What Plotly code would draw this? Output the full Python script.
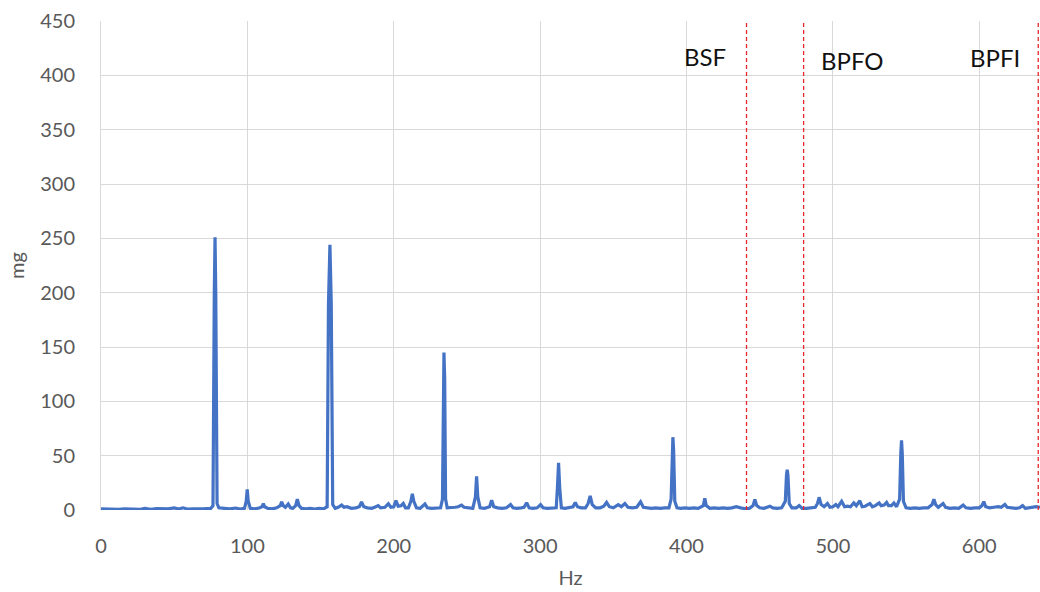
import plotly.graph_objects as go

# Spectrum points (Hz, mg)
freq_hz = [0, 4, 8, 12, 16, 20, 24, 27, 30, 34, 38, 42, 46, 50, 53, 56, 59, 63, 67, 71, 75,
           76.5, 77.4, 77.9, 78.4, 79.3, 80.5, 84, 88, 92, 95, 98, 99.2, 99.9, 100.6, 102, 105, 108,
           110, 110.9, 111.8, 114, 117, 120, 122.5, 123.4, 124.5, 126, 127.9, 129.5, 131, 133, 134.1,
           135.3, 137, 140, 143, 146, 149, 152, 154.5, 155.4, 156.4, 157.3, 158.3, 160, 162, 164.4,
           166, 168, 171, 174, 176.5, 178, 179.5, 182, 185, 187, 189.4, 191, 194, 196.3, 198, 200,
           201.5, 203, 205, 206.5, 208, 210, 211.7, 212.7, 213.7, 215.5, 218, 221.3, 223, 226, 229,
           232, 233.3, 233.8, 234.3, 234.8, 235.4, 236.5, 239, 242, 244, 246.3, 248, 251, 254, 255.8,
           256.6, 257.4, 259, 262, 265.5, 266.9, 268.3, 271, 274, 277, 279.8, 281.5, 284, 287, 289,
           290.8, 292.5, 295, 298, 300.3, 302, 305, 308, 311, 311.8, 312.6, 313.4, 314.5, 317, 320,
           322.5, 324, 325.5, 328, 331, 332.8, 334.2, 335.6, 338, 341, 343.5, 345.4, 347.3, 350,
           353.4, 355.5, 357.9, 360, 363, 366, 368.6, 370.5, 373, 376, 379, 382, 385, 388, 389.5,
           390.2, 390.7, 391.2, 392, 393.5, 396, 399, 402, 405, 408, 411.5, 412.5, 413.5, 416, 419,
           422, 425, 428, 431, 434, 437, 440, 443, 445.5, 446.7, 448, 450, 453, 455, 457, 459, 462,
           465, 467.5, 468.3, 468.8, 469.3, 470.2, 472, 475, 477, 479, 482, 485, 488, 489.5, 490.6,
           492, 494, 496.3, 498, 500, 502, 503.5, 506, 508, 510, 512, 514.3, 516, 518.4, 520, 522,
           525.3, 527, 529, 531.6, 533, 535, 536.7, 538, 540, 541.7, 543.5, 545.6, 546.4, 546.9,
           547.4, 548.2, 550, 553, 556, 559, 562, 565, 567.8, 569, 570.2, 572, 575.3, 577, 580, 583,
           586, 589, 591, 594, 597, 600, 601.8, 603.1, 604.4, 607, 610, 613, 615, 617.5, 619, 622,
           625, 627.5, 629.6, 631.5, 634, 637, 639, 641.5]
amp_mg = [1.0, 0.8, 1.2, 0.7, 1.0, 0.8, 1.3, 0.6, 1.5, 0.7, 1.2, 0.8, 1.1, 2.0, 0.8, 2.0, 0.9, 1.0, 0.8, 1.2, 1.5,
          4, 200, 251, 200, 6, 2, 1.5, 1.0, 1.8, 0.8, 1.5, 8, 19, 8, 1.5, 1.0, 1.8,
          3, 6, 3, 1.5, 1.0, 2.0, 4, 7.5, 4, 2.5, 5.5, 2, 1.5, 4, 10,
          4, 1.5, 1.0, 1.5, 0.8, 1.5, 1.0, 3, 190, 244, 190, 5, 1.5, 2.5, 4.5,
          2.5, 3, 1.5, 2, 3, 7.4, 3, 2, 1.5, 2.5, 4, 2, 2.5, 5.8, 2.5, 3,
          8.6, 3.5, 4, 6, 2, 2, 8, 15, 8, 2, 1.5, 5.5, 2, 1.5, 2,
          2, 10, 120, 145, 120, 10, 2, 2, 2.5, 3, 4.5, 2.5, 2, 1.5, 12,
          31, 12, 2, 1.5, 3, 9, 3, 2, 1.5, 2, 5, 2, 1.5, 2, 2.5,
          6.7, 2, 1.5, 2, 5, 2, 1.5, 1.5, 2, 20, 43.5, 20, 2, 1.5, 2,
          3, 7, 3, 2, 2, 6, 13, 5, 2, 2, 3.5, 7, 3, 2,
          5, 3, 6, 2.5, 2, 2.5, 7.5, 2.5, 2, 1.5, 2, 1.5, 2, 2, 10,
          55, 67, 55, 8, 2, 1.5, 2, 1.5, 2, 1.5, 4, 10.7, 4, 1.5, 2,
          1.5, 2, 1.5, 2, 3, 2, 1.2, 1.5, 4, 9.8, 4, 2, 1.5, 2.5, 3.5, 2, 1.5,
          2, 8, 32, 37, 32, 6, 2, 2, 4, 1.5, 1.5, 2, 2.5, 6, 11.7,
          5, 3, 6, 2.5, 3, 5, 3, 8, 3, 3.5, 3, 6.5, 4, 8.5, 3, 3.5,
          6, 3, 4, 6.5, 4, 4.5, 7, 4, 4, 6.5, 3, 10, 52, 64,
          52, 8, 2, 1.5, 2, 1.5, 2, 2, 5, 10, 5, 2.5, 6, 2.5, 1.5, 2,
          1.5, 4.5, 2, 1.5, 2, 2, 4, 7.7, 3, 2, 2.5, 3, 2.5, 5, 2.5, 2,
          1.5, 2, 4, 1.5, 2, 2.5, 3, 2.5]

marker_names = ["BSF", "BPFO", "BPFI"]
marker_freqs = [441, 480, 640.3]
label_x = [412.8, 513.2, 611.0]
label_y = [416.9, 414.0, 416.0]

x_ticks = [0, 100, 200, 300, 400, 500, 600]
y_ticks = [0, 50, 100, 150, 200, 250, 300, 350, 400, 450]

FONT = "Lato, 'Open Sans', sans-serif"

fig = go.Figure()
fig.add_trace(go.Scatter(x=freq_hz, y=amp_mg, mode="lines",
                         line=dict(color="#4472C4", width=3.2), showlegend=False,
                         hoverinfo="skip"))

for f in marker_freqs:
    fig.add_trace(go.Scatter(x=[f, f], y=[0, 450], mode="lines",
                             line=dict(color="#E8262B", width=1.3, dash="4px,3px"),
                             showlegend=False, hoverinfo="skip", cliponaxis=False))

for name, lx, ly in zip(marker_names, label_x, label_y):
    fig.add_annotation(x=lx, y=ly, text=name, showarrow=False,
                       font=dict(family=FONT, size=24, color="#111111"),
                       xanchor="center", yanchor="middle")

fig.update_layout(
    width=1040, height=592,
    margin=dict(l=101, r=0, t=21, b=82),
    paper_bgcolor="white", plot_bgcolor="white",
    font=dict(family=FONT, size=20, color="#595959"),
    hovermode=False,
)
fig.update_xaxes(range=[0, 641.5], tickvals=x_ticks, showgrid=True, automargin=False,
                 gridcolor="#D9D9D9", gridwidth=1, zeroline=False, showline=False,
                 ticks="", ticklabelstandoff=22,
                 tickfont=dict(family=FONT, size=20, color="#595959"),
                 title=dict(text="Hz", font=dict(family=FONT, size=20, color="#595959"),
                            standoff=14))
fig.update_yaxes(range=[0, 450], tickvals=y_ticks, showgrid=True, automargin=False,
                 gridcolor="#D9D9D9", gridwidth=1, zeroline=False,
                 showline=True, linecolor="#D9D9D9", linewidth=1,
                 ticks="", ticklabelstandoff=21,
                 tickfont=dict(family=FONT, size=20, color="#595959"),
                 title=dict(text="mg", font=dict(family=FONT, size=20, color="#595959"),
                            standoff=10))

fig.write_html("out.html", config={"displayModeBar": False},
               post_script="document.body.style.margin='0px';document.body.style.overflow='hidden';")
